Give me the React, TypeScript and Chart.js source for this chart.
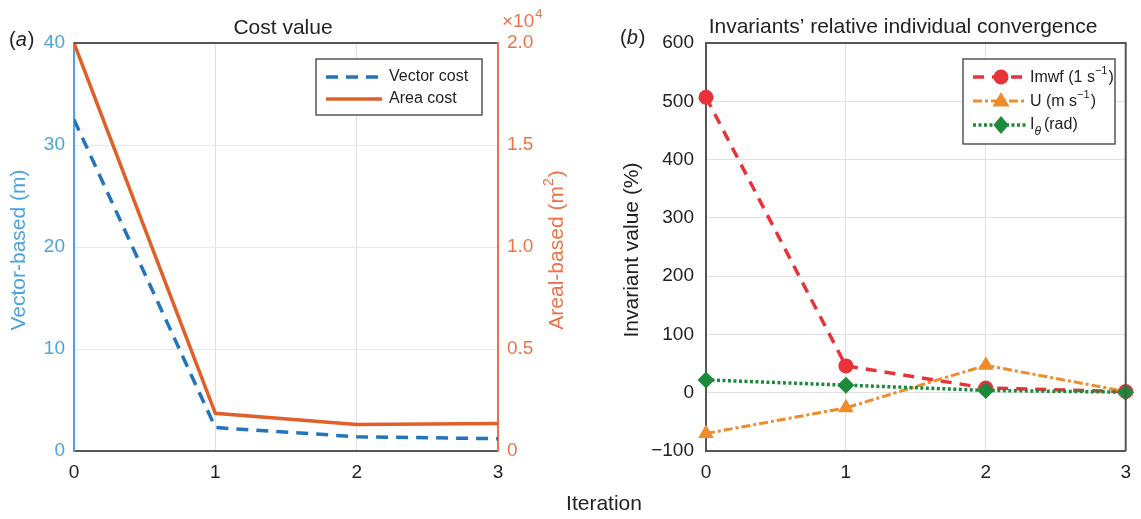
import React, { useEffect, useRef } from "react";
import { Chart, registerables } from "chart.js";
Chart.register(...registerables);

// ---------- data ----------
const iterations = [0, 1, 2, 3];
const vectorCost = [32.5, 2.3, 1.4, 1.2]; // m
const areaCost = [20000, 1850, 1300, 1350]; // m^2
const imwfValues = [507, 46, 8, 2]; // %
const uValues = [-70, -26, 47, 2]; // %
const iThetaValues = [22, 13, 4, 1]; // %
const leftTickValues = [0, 10, 20, 30, 40];
const areaTickValues = [0, 5000, 10000, 15000, 20000];
const invariantTickValues = [-100, 0, 100, 200, 300, 400, 500, 600];

const FONT = "'Liberation Sans', Arial, Helvetica, sans-serif";
const BLUE_AXIS = "#4DA3DB";
const ORANGE_AXIS = "#EA7449";
const BLUE_LINE = "#2374BD";
const ORANGE_LINE = "#E0602A";
const RED = "#E8333A";
const ORANGE = "#EE8B2B";
const GREEN = "#1C8A3B";
const DARK = "#222222";
const BOX = "#555555";
const TICK_SIZE = 19;

const H = 519;
const A_W = 570;
const B_LEFT = 570;
const B_W = 571;

function setFont(ctx: CanvasRenderingContext2D, size: number, style = "") {
  ctx.font = `${style} ${size}px ${FONT}`.trim();
}

function txt(
  ctx: CanvasRenderingContext2D,
  s: string,
  x: number,
  y: number,
  size: number,
  color: string,
  align: CanvasTextAlign = "left",
  style = ""
) {
  setFont(ctx, size, style);
  ctx.fillStyle = color;
  ctx.textAlign = align;
  ctx.textBaseline = "middle";
  ctx.fillText(s, x, y);
}

function drawPanelLabel(ctx: CanvasRenderingContext2D, letter: string, x: number, y: number) {
  setFont(ctx, 20);
  const w1 = ctx.measureText("(").width;
  txt(ctx, "(", x, y, 20, DARK);
  setFont(ctx, 20, "italic");
  const w2 = ctx.measureText(letter).width;
  txt(ctx, letter, x + w1, y, 20, DARK, "left", "italic");
  txt(ctx, ")", x + w1 + w2 + 1, y, 20, DARK);
}

function drawMarker(ctx: CanvasRenderingContext2D, kind: string, x: number, y: number, r: number, color: string) {
  ctx.save();
  ctx.fillStyle = color;
  ctx.setLineDash([]);
  ctx.beginPath();
  if (kind === "circle") {
    ctx.arc(x, y, r, 0, Math.PI * 2);
  } else if (kind === "triangle") {
    ctx.moveTo(x, y - r);
    ctx.lineTo(x + r * 0.95, y + r * 0.6);
    ctx.lineTo(x - r * 0.95, y + r * 0.6);
    ctx.closePath();
  } else {
    ctx.moveTo(x, y - r);
    ctx.lineTo(x + r * 0.85, y);
    ctx.lineTo(x, y + r);
    ctx.lineTo(x - r * 0.85, y);
    ctx.closePath();
  }
  ctx.fill();
  ctx.restore();
}

function legendLine(ctx: CanvasRenderingContext2D, x1: number, x2: number, y: number, color: string, dash: number[], width: number) {
  ctx.save();
  ctx.strokeStyle = color;
  ctx.lineWidth = width;
  ctx.setLineDash(dash);
  ctx.beginPath();
  ctx.moveTo(x1, y);
  ctx.lineTo(x2, y);
  ctx.stroke();
  ctx.restore();
}

const decorA = {
  id: "decorA",
  afterDraw(chart: any) {
    const ctx: CanvasRenderingContext2D = chart.ctx;
    const { left, right, top } = chart.chartArea;
    ctx.save();
    // top box line
    ctx.strokeStyle = BOX;
    ctx.lineWidth = 2;
    ctx.beginPath();
    ctx.moveTo(left, top);
    ctx.lineTo(right - 1, top);
    ctx.stroke();
    // title
    txt(ctx, "Cost value", 283, 28, 21, DARK, "center");
    // panel label
    drawPanelLabel(ctx, "a", 9, 40);
    // exponent
    setFont(ctx, 19);
    txt(ctx, "\u00d710", 502, 22, 19, ORANGE_AXIS);
    const wx = ctx.measureText("\u00d710").width;
    txt(ctx, "4", 502 + wx + 1, 14, 13, ORANGE_AXIS);
    // left axis title
    ctx.save();
    ctx.translate(19, 250);
    ctx.rotate(-Math.PI / 2);
    txt(ctx, "Vector-based (m)", 0, 0, 21, BLUE_AXIS, "center");
    ctx.restore();
    // right axis title
    ctx.save();
    ctx.translate(557, 250);
    ctx.rotate(-Math.PI / 2);
    setFont(ctx, 21);
    const p1 = "Areal-based (m";
    const w1 = ctx.measureText(p1).width;
    setFont(ctx, 14);
    const w2 = ctx.measureText("2").width;
    setFont(ctx, 21);
    const w3 = ctx.measureText(")").width;
    const total = w1 + w2 + w3 + 1;
    let sx = -total / 2;
    txt(ctx, p1, sx, 0, 21, ORANGE_AXIS);
    txt(ctx, "2", sx + w1, -8, 14, ORANGE_AXIS);
    txt(ctx, ")", sx + w1 + w2 + 1, 0, 21, ORANGE_AXIS);
    ctx.restore();
    // legend
    ctx.fillStyle = "#ffffff";
    ctx.fillRect(316, 59, 166, 56);
    ctx.strokeStyle = BOX;
    ctx.lineWidth = 1.5;
    ctx.strokeRect(316, 59, 166, 56);
    legendLine(ctx, 326, 382, 77, BLUE_LINE, [12, 8], 3.5);
    txt(ctx, "Vector cost", 389, 77, 16, DARK);
    legendLine(ctx, 326, 382, 99, ORANGE_LINE, [], 3.5);
    txt(ctx, "Area cost", 389, 99, 16, DARK);
    ctx.restore();
  },
};

const decorB = {
  id: "decorB",
  afterDraw(chart: any) {
    const ctx: CanvasRenderingContext2D = chart.ctx;
    const { left, right, top, bottom } = chart.chartArea;
    ctx.save();
    ctx.strokeStyle = BOX;
    ctx.lineWidth = 2;
    ctx.beginPath();
    ctx.moveTo(left, top);
    ctx.lineTo(right, top);
    ctx.lineTo(right, bottom);
    ctx.stroke();
    // title
    txt(ctx, "Invariants\u2019 relative individual convergence", 903 - B_LEFT, 27, 21, DARK, "center");
    drawPanelLabel(ctx, "b", 620 - B_LEFT, 38);
    // y title
    ctx.save();
    ctx.translate(632 - B_LEFT, 250);
    ctx.rotate(-Math.PI / 2);
    txt(ctx, "Invariant value (%)", 0, 0, 21, DARK, "center");
    ctx.restore();
    // legend
    const bx = 963 - B_LEFT;
    ctx.fillStyle = "#ffffff";
    ctx.fillRect(bx, 59, 152, 85);
    ctx.strokeStyle = BOX;
    ctx.lineWidth = 1.5;
    ctx.strokeRect(bx, 59, 152, 85);
    const lx1 = 973 - B_LEFT;
    const lx2 = 1027 - B_LEFT;
    const mx = 1001 - B_LEFT;
    const tx = 1030 - B_LEFT;
    // row 1
    legendLine(ctx, lx1, lx2, 77, RED, [11, 8], 3.5);
    drawMarker(ctx, "circle", mx, 77, 7.5, RED);
    setFont(ctx, 16);
    const s1 = "Imwf (1 s";
    txt(ctx, s1, tx, 78, 16, DARK);
    let w = ctx.measureText(s1).width;
    txt(ctx, "\u22121", tx + w, 71, 11, DARK);
    setFont(ctx, 11);
    let w2 = ctx.measureText("\u22121").width;
    txt(ctx, ")", tx + w + w2 + 1, 78, 16, DARK);
    // row 2
    legendLine(ctx, lx1, lx2, 101, ORANGE, [9, 3, 3, 3], 3);
    drawMarker(ctx, "triangle", mx, 101, 9, ORANGE);
    setFont(ctx, 16);
    const s2 = "U (m s";
    txt(ctx, s2, tx, 102, 16, DARK);
    w = ctx.measureText(s2).width;
    txt(ctx, "\u22121", tx + w, 95, 11, DARK);
    setFont(ctx, 11);
    w2 = ctx.measureText("\u22121").width;
    txt(ctx, ")", tx + w + w2 + 1, 102, 16, DARK);
    // row 3
    legendLine(ctx, lx1, lx2, 125, GREEN, [3, 2.5], 3.5);
    drawMarker(ctx, "diamond", mx, 125, 9, GREEN);
    setFont(ctx, 16);
    txt(ctx, "I", tx, 125, 16, DARK);
    w = ctx.measureText("I").width;
    txt(ctx, "\u03b8", tx + w, 132, 12, DARK, "left", "italic");
    setFont(ctx, 12, "italic");
    w2 = ctx.measureText("\u03b8").width;
    txt(ctx, "(rad)", tx + w + w2 + 3, 125, 16, DARK);
    ctx.restore();
  },
};

function xy(values: number[]) {
  return values.map((v, i) => ({ x: iterations[i], y: v }));
}

function fixedTicks(list: number[]) {
  return (scale: any) => {
    scale.ticks = list.map((v) => ({ value: v }));
  };
}

const tickFont = { family: FONT, size: TICK_SIZE };

export default function App() {
  const refA = useRef<HTMLCanvasElement>(null);
  const refB = useRef<HTMLCanvasElement>(null);

  useEffect(() => {
    const chartA = new Chart(refA.current!, {
      type: "line",
      data: {
        datasets: [
          {
            label: "Vector cost",
            data: xy(vectorCost),
            yAxisID: "y",
            borderColor: BLUE_LINE,
            borderWidth: 3.5,
            borderDash: [12, 8],
            pointRadius: 0,
            fill: false,
            tension: 0,
          },
          {
            label: "Area cost",
            data: xy(areaCost),
            yAxisID: "y2",
            borderColor: ORANGE_LINE,
            borderWidth: 3.5,
            pointRadius: 0,
            fill: false,
            tension: 0,
          },
        ],
      },
      options: {
        animation: false,
        responsive: false,
        maintainAspectRatio: false,
        layout: { padding: { top: 43, left: 0, right: 0, bottom: 0 } },
        plugins: { legend: { display: false }, tooltip: { enabled: false }, title: { display: false } },
        scales: {
          x: {
            type: "linear",
            min: 0,
            max: 3,
            afterBuildTicks: fixedTicks(iterations),
            ticks: { color: DARK, font: tickFont, padding: 10, maxRotation: 0 },
            grid: { color: "#e0e0e0", lineWidth: 1, drawTicks: false },
            border: { color: BOX, width: 2 },
            afterFit: (s: any) => {
              s.height = H - 451;
            },
          },
          y: {
            position: "left",
            min: 0,
            max: 40,
            afterBuildTicks: fixedTicks(leftTickValues),
            ticks: { color: BLUE_AXIS, font: tickFont, padding: 9 },
            grid: { color: "#dde9f3", lineWidth: 1, drawTicks: false },
            border: { color: BLUE_AXIS, width: 2 },
            afterFit: (s: any) => {
              s.width = 74;
            },
          },
          y2: {
            position: "right",
            min: 0,
            max: 20000,
            afterBuildTicks: fixedTicks(areaTickValues),
            ticks: {
              color: ORANGE_AXIS,
              font: tickFont,
              padding: 9,
              callback: (v: any) => (Number(v) === 0 ? "0" : (Number(v) / 1e4).toFixed(1)),
            },
            grid: { drawOnChartArea: false, drawTicks: false },
            border: { color: ORANGE_AXIS, width: 2 },
            afterFit: (s: any) => {
              s.width = A_W - 498;
            },
          },
        },
      } as any,
      plugins: [decorA],
    });

    const chartB = new Chart(refB.current!, {
      type: "line",
      data: {
        datasets: [
          {
            label: "Imwf (1 s\u22121)",
            data: xy(imwfValues),
            borderColor: RED,
            backgroundColor: RED,
            borderWidth: 3.5,
            borderDash: [11, 8],
            pointStyle: "circle",
            pointRadius: 7.5,
            pointBorderWidth: 0,
            fill: false,
            tension: 0,
            clip: false,
            order: 2,
          },
          {
            label: "U (m s\u22121)",
            data: xy(uValues),
            borderColor: ORANGE,
            backgroundColor: ORANGE,
            borderWidth: 3,
            borderDash: [9, 3, 3, 3],
            pointStyle: "triangle",
            pointRadius: 9,
            pointBorderWidth: 0,
            fill: false,
            tension: 0,
            clip: false,
            order: 1,
          },
          {
            label: "I\u03b8 (rad)",
            data: xy(iThetaValues),
            borderColor: GREEN,
            backgroundColor: GREEN,
            borderWidth: 3.5,
            borderDash: [3, 2.5],
            pointStyle: "rectRot",
            pointRadius: 8.5,
            pointBorderWidth: 0,
            fill: false,
            tension: 0,
            clip: false,
            order: 0,
          },
        ],
      },
      options: {
        animation: false,
        responsive: false,
        maintainAspectRatio: false,
        layout: { padding: { top: 43, left: 0, right: B_W - (1130 - B_LEFT), bottom: 0 } },
        plugins: { legend: { display: false }, tooltip: { enabled: false }, title: { display: false } },
        scales: {
          x: {
            type: "linear",
            min: 0,
            max: 3,
            afterBuildTicks: fixedTicks(iterations),
            ticks: { color: DARK, font: tickFont, padding: 10, maxRotation: 0 },
            grid: { color: "#e0e0e0", lineWidth: 1, drawTicks: false },
            border: { color: BOX, width: 2 },
            afterFit: (s: any) => {
              s.height = H - 451;
            },
          },
          y: {
            position: "left",
            min: -100,
            max: 600,
            afterBuildTicks: fixedTicks(invariantTickValues),
            ticks: {
              color: DARK,
              font: tickFont,
              padding: 12,
              callback: (v: any) => (Number(v) < 0 ? "\u2212" + Math.abs(Number(v)) : String(v)),
            },
            grid: { color: "#e0e0e0", lineWidth: 1, drawTicks: false },
            border: { color: BOX, width: 2 },
            afterFit: (s: any) => {
              s.width = 706 - B_LEFT;
            },
          },
        },
      } as any,
      plugins: [decorB],
    });

    return () => {
      chartA.destroy();
      chartB.destroy();
    };
  }, []);

  return (
    <div style={{ position: "fixed", left: 0, top: 0, width: 1141, height: H, background: "#fff" }}>
      <canvas
        ref={refA}
        width={A_W}
        height={H}
        style={{ position: "absolute", left: 0, top: 0, width: A_W, height: H }}
      />
      <canvas
        ref={refB}
        width={B_W}
        height={H}
        style={{ position: "absolute", left: B_LEFT, top: 0, width: B_W, height: H }}
      />
      <div
        style={{
          position: "absolute",
          left: 604,
          top: 491,
          transform: "translateX(-50%)",
          fontFamily: FONT,
          fontSize: 21,
          lineHeight: "24px",
          color: DARK,
          whiteSpace: "nowrap",
        }}
      >
        Iteration
      </div>
    </div>
  );
}
